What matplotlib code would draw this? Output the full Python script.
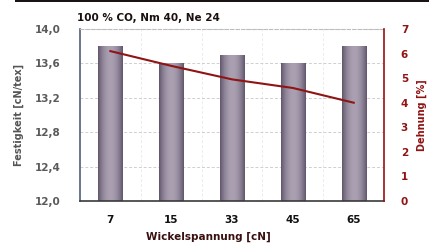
import numpy as np
import matplotlib
matplotlib.use("Agg")
import matplotlib.pyplot as plt
from matplotlib.ticker import FuncFormatter, FixedLocator

categories = ["7", "15", "33", "45", "65"]
festigkeit = [13.8, 13.6, 13.7, 13.6, 13.8]
dehnung = [6.1, 5.5, 4.95, 4.6, 4.0]
title = "100 % CO, Nm 40, Ne 24"

fig = plt.figure(figsize=(4.36, 2.45), dpi=100)
fig.patch.set_facecolor("white")
ax = fig.add_axes([0.1835, 0.1796, 0.6975, 0.702])

x = np.arange(len(categories))
bars = ax.bar(x, festigkeit, width=0.4, bottom=0, color="#857a8d", zorder=2)

# cylinder-like gradient on bars
grad = np.linspace(-1, 1, 64)
shade = 1 - 0.55 * grad ** 2
cmap = matplotlib.colors.LinearSegmentedColormap.from_list("bar", ["#5a4f66", "#aaa0b2"])
for b in bars:
    x0, w = b.get_x(), b.get_width()
    im = ax.imshow(shade[None, :], extent=[x0, x0 + w, 12.0, b.get_height()],
                   aspect="auto", cmap=cmap, vmin=0.4, vmax=1.0, zorder=2.5)
    im.set_clip_path(b)
ax.set_xlim(-0.5, len(categories) - 0.5)
ax.set_ylim(12.0, 14.0)

ax.yaxis.set_major_locator(FixedLocator([12.0, 12.4, 12.8, 13.2, 13.6, 14.0]))
ax.yaxis.set_major_formatter(FuncFormatter(lambda v, p: f"{v:.1f}".replace(".", ",")))
ax.set_xticks(x)
ax.set_xticklabels(categories, fontweight="bold", fontsize=7.5, color="#111111")
for lab in ax.get_yticklabels():
    lab.set_fontweight("bold"); lab.set_fontsize(7.5); lab.set_color("#5a5a5a")
ax.tick_params(axis="x", length=0, pad=10)
ax.tick_params(axis="y", length=0, pad=14)
ax.grid(axis="y", color="#cfcfcf", linestyle=(0, (3, 2)), linewidth=0.7, zorder=0)
for xv in np.arange(0.5, len(categories) - 0.5, 1):
    ax.axvline(xv, color="#ececec", linestyle=(0, (3, 2)), linewidth=0.7, zorder=0)

ax.spines["left"].set_color("#4f5d78")
ax.spines["bottom"].set_color("#3a3a3a")
ax.spines["top"].set_color("#bdbdbd")
ax.spines["top"].set_linestyle((0, (3, 2)))
ax.spines["right"].set_visible(False)
for s in ["left", "bottom"]:
    ax.spines[s].set_linewidth(1.2)

ax.set_ylabel("Festigkeit [cN/tex]", fontsize=7, fontweight="bold", color="#555555", labelpad=8)
ax.set_title(title, fontsize=7.5, fontweight="bold", loc="left", color="#1a1010", pad=6, x=-0.01)
fig.text(0.477, 0.012, "Wickelspannung [cN]", fontsize=7.5, fontweight="bold",
         color="#3a1010", ha="center", va="bottom")

ax2 = ax.twinx()
ax2.plot(x, dehnung, color="#8f1414", linewidth=1.5, zorder=5)
ax2.set_ylim(0, 7)
ax2.set_yticks(range(0, 8))
for lab in ax2.get_yticklabels():
    lab.set_fontweight("bold"); lab.set_fontsize(7.5); lab.set_color("#8f1414")
ax2.tick_params(axis="y", length=0, pad=12)
ax2.spines["right"].set_color("#9a1010")
ax2.spines["right"].set_linewidth(1.2)
for s in ["left", "top", "bottom"]:
    ax2.spines[s].set_visible(False)
ax2.set_ylabel("Dehnung [%]", fontsize=7, fontweight="bold", color="#8f1414", labelpad=6)

# dark band at top of image
fig.add_artist(plt.Rectangle((0.035, 0.99), 0.948, 0.012, transform=fig.transFigure,
                             color="#1a1414", lw=0))

fig.savefig("out.png", dpi=100, facecolor="white")
